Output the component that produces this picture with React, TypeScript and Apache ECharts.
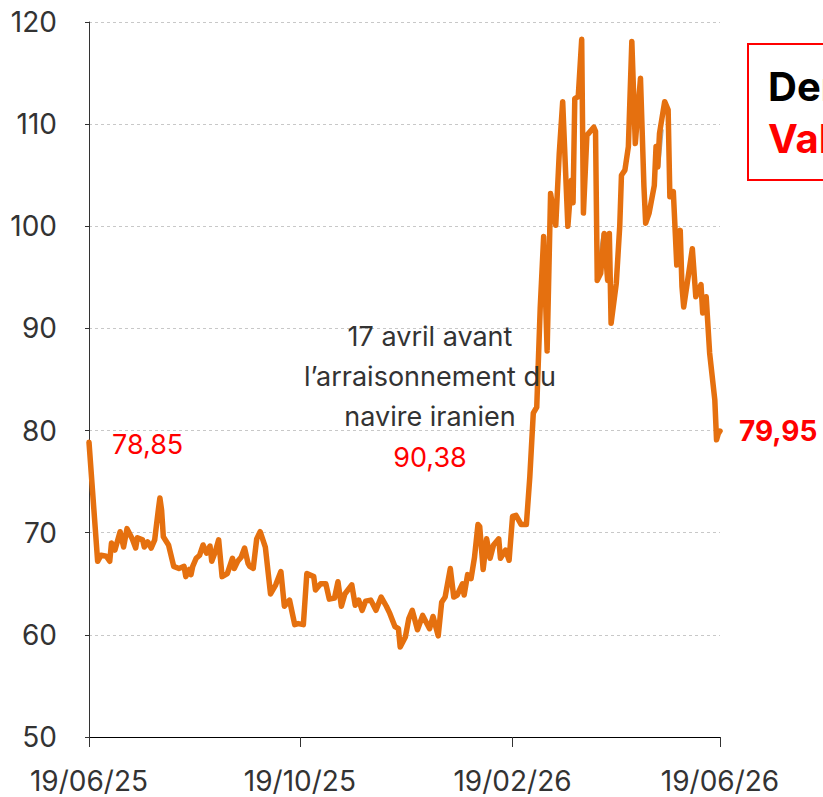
import React, { useEffect, useRef } from "react";
import * as echarts from "echarts";

// Days elapsed since 19/06/25 and the matching price
const dayOffsets = [
  0, 5, 7, 10, 12, 13, 15, 18, 20, 22, 25, 27, 28, 31, 32, 34, 36, 38, 40, 41,
  42, 43, 46, 49, 52, 55, 56, 58, 59, 60, 62, 64, 66, 68, 70, 71, 73, 75, 77, 80,
  83, 84, 86, 88, 90, 92, 93, 95, 97, 99, 102, 105, 108, 111, 113, 116, 119, 121, 124, 126,
  130, 131, 134, 137, 139, 142, 144, 146, 148, 152, 154, 156, 158, 160, 163, 166, 169, 172, 174, 177,
  179, 180, 183, 185, 187, 190, 193, 197, 199, 202, 204, 206, 209, 211, 213, 216, 217, 219, 221, 223,
  225, 226, 228, 230, 232, 234, 237, 238, 241, 243, 245, 247, 250, 253, 255, 257, 259, 261, 263, 265,
  267, 270, 272, 274, 277, 279, 280, 281, 283, 285, 286, 288, 292, 293, 294, 296, 298, 300, 301, 302,
  305, 307, 308, 310, 312, 314, 316, 319, 321, 322, 324, 327, 328, 329, 330, 333, 335, 336, 338, 340,
  342, 343, 344, 349, 351, 354, 355, 357, 359, 362, 363, 364, 365,
];
const prices = [
  78.85, 67.2, 67.8, 67.7, 67.2, 69.0, 68.3, 70.1, 68.6, 70.4, 69.4, 68.5, 69.5, 69.3, 68.6, 69.1, 68.5, 69.3, 72.1, 73.4,
  72.2, 69.6, 68.8, 66.7, 66.5, 66.7, 65.7, 66.4, 65.9, 66.7, 67.5, 67.8, 68.8, 68.0, 68.7, 67.2, 68.1, 69.3, 65.7, 66.0,
  67.5, 66.5, 67.2, 67.6, 68.5, 67.0, 66.7, 66.5, 69.4, 70.1, 68.6, 64.0, 64.9, 66.2, 62.8, 63.4, 61.0, 61.1, 61.0, 66.0,
  65.7, 64.4, 65.0, 65.0, 63.5, 63.6, 65.2, 62.8, 64.0, 64.9, 62.9, 63.4, 62.4, 63.3, 63.4, 62.4, 63.7, 62.8, 62.1, 60.8,
  60.6, 58.8, 59.8, 61.6, 62.4, 60.5, 61.9, 60.6, 61.8, 59.9, 63.2, 63.7, 66.5, 63.7, 63.9, 65.0, 63.9, 65.9, 65.5, 67.6,
  70.8, 70.6, 66.4, 69.4, 67.5, 68.8, 69.4, 67.5, 68.3, 67.3, 71.6, 71.7, 70.8, 70.8, 75.5, 81.7, 82.3, 92.0, 99.0, 87.8,
  103.2, 100.1, 107.1, 112.2, 100.0, 104.5, 102.3, 112.5, 112.7, 118.3, 101.3, 108.9, 109.7, 109.3, 94.7, 95.4, 99.3, 94.7, 99.3, 90.5,
  94.4, 100.0, 105.0, 105.5, 107.8, 118.1, 108.1, 114.5, 103.9, 100.3, 101.3, 104.0, 107.8, 105.8, 109.1, 112.2, 111.4, 102.9, 103.4, 96.2,
  99.6, 94.1, 92.1, 97.8, 93.1, 94.3, 91.5, 93.1, 87.6, 83.0, 79.1, 79.7, 79.95,
];

// Second (grey) series, only visible where it departs from the orange one
const greyDays = [294, 297, 298, 329, 331];
const greyPrices = [94.7, 98.2, 99.3, 105.8, 109.5];

const tickLabels = ["19/06/25", "19/10/25", "19/02/26", "19/06/26"];
const tickDays = [0, 122, 245, 365];

const firstLabel = "78,85";
const lastLabel = "79,95";
const noteLines = ["17 avril avant", "l\u2019arraisonnement du", "navire iranien"];
const noteValue = "90,38";
const boxLine1 = "Dernier";
const boxLine2 = "Valeur";

const FONT = "Inter, 'Open Sans', sans-serif";

export default function App() {
  const ref = useRef<HTMLDivElement>(null);
  useEffect(() => {
    if (!ref.current) return;
    const chart = echarts.init(ref.current, null, { renderer: "svg" });
    const mainData = dayOffsets.map((d, i) => [d, prices[i]]);
    const greyData = [
      [greyDays[0], greyPrices[0]],
      [greyDays[1], greyPrices[1]],
      [greyDays[2], greyPrices[2]],
      [greyDays[2] + 0.5, null],
      [greyDays[3], greyPrices[3]],
      [greyDays[4], greyPrices[4]],
    ];
    chart.setOption({
      animation: false,
      textStyle: { fontFamily: FONT },
      grid: { left: 89, right: 103, top: 22, bottom: 60, containLabel: false },
      xAxis: {
        type: "value",
        min: tickDays[0],
        max: tickDays[tickDays.length - 1],
        axisLine: { show: true, lineStyle: { color: "#000", width: 1 } },
        axisTick: { show: true, length: 10, lineStyle: { color: "#333" }, customValues: tickDays },
        axisLabel: {
          customValues: tickDays,
          fontSize: 28,
          color: "#333",
          margin: 30,
          fontFamily: FONT,
          hideOverlap: false,
          formatter: (v: number) => {
            const i = tickDays.indexOf(Math.round(v));
            return i >= 0 ? tickLabels[i] : "";
          },
        },
        splitLine: { show: false },
      },
      yAxis: {
        type: "value",
        min: 50,
        max: 120,
        interval: 10,
        axisLine: { show: true, lineStyle: { color: "#333", width: 1 } },
        axisTick: { show: true, length: 4, lineStyle: { color: "#333" } },
        axisLabel: { fontSize: 28, color: "#333", margin: 32, fontFamily: FONT },
        splitLine: { show: true, lineStyle: { color: "#c8c8c8", type: [3, 3], width: 1 } },
      },
      series: [
        {
          type: "line",
          data: greyData,
          symbol: "none",
          connectNulls: false,
          lineStyle: { color: "#a6a6a6", width: 5 },
          z: 1,
        },
        {
          type: "line",
          data: mainData,
          symbol: "none",
          lineStyle: { color: "#E5700F", width: 5.5, join: "round", cap: "round" },
          z: 2,
          endLabel: {
            show: true,
            formatter: lastLabel,
            color: "#ff0000",
            fontWeight: "bold",
            fontSize: 28,
            fontFamily: FONT,
            distance: 19,
          },
        },
      ],
      graphic: [
        {
          type: "text",
          x: 112,
          y: 431,
          z: 100,
          style: { text: firstLabel, fill: "#ff0000", fontSize: 27, fontFamily: FONT },
        },
        {
          type: "text",
          x: 430,
          y: 316,
          z: 100,
          style: {
            text: noteLines.join("\n"),
            fill: "#333",
            fontSize: 27,
            lineHeight: 40,
            align: "center",
            fontFamily: FONT,
          },
        },
        {
          type: "text",
          x: 430,
          y: 444,
          z: 100,
          style: { text: noteValue, fill: "#ff0000", fontSize: 27, align: "center", fontFamily: FONT },
        },
        {
          type: "rect",
          shape: { x: 748, y: 44, width: 300, height: 136 },
          style: { fill: "#fff", stroke: "#ff0000", lineWidth: 2 },
          z: 100,
        },
        {
          type: "text",
          x: 768,
          y: 66,
          z: 101,
          style: { text: boxLine1, fill: "#000", fontSize: 40, fontWeight: "bold", fontFamily: FONT },
        },
        {
          type: "text",
          x: 768,
          y: 118,
          z: 101,
          style: { text: boxLine2, fill: "#ff0000", fontSize: 40, fontWeight: "bold", fontFamily: FONT },
        },
      ],
    });
    return () => chart.dispose();
  }, []);
  return (
    <div
      ref={ref}
      style={{ position: "absolute", left: 0, top: 0, width: 823, height: 797, background: "#fff" }}
    />
  );
}
